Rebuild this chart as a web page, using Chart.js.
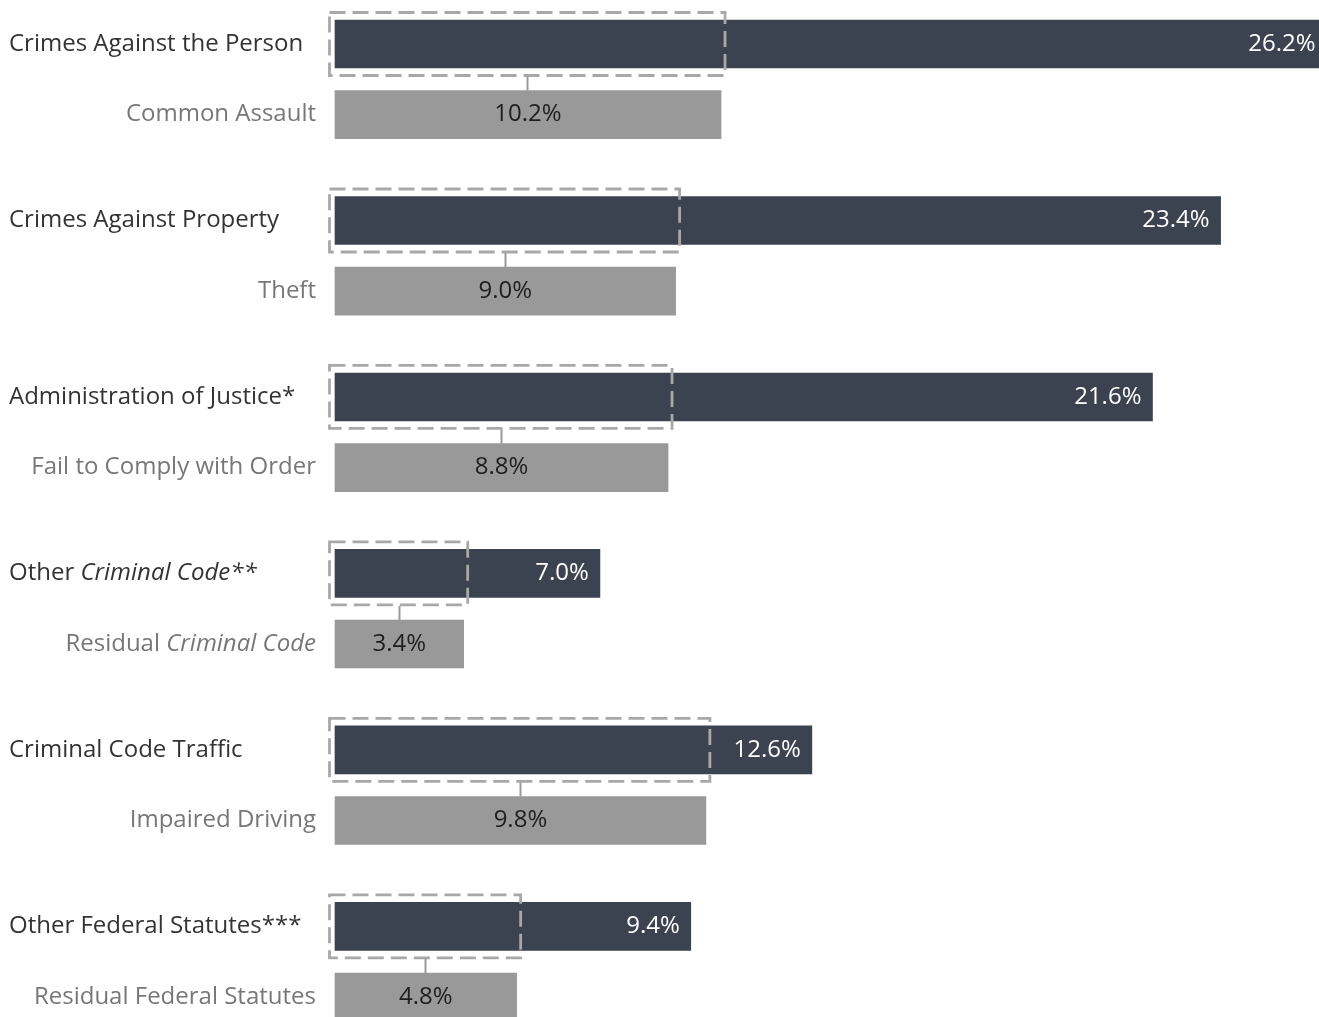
<!DOCTYPE html>
<html>
<head>
<meta charset="utf-8">
<script src="https://cdn.jsdelivr.net/npm/chart.js@4.4.1/dist/chart.umd.min.js"></script>
<style>
  html, body { margin: 0; padding: 0; background: #ffffff; }
  #wrap { width: 1319px; height: 1017px; position: relative; }
</style>
</head>
<body>
<div id="wrap"><canvas id="c" width="1319" height="1017"></canvas></div>
<script>
// ---- Data ----
const categories = ['Crimes Against the Person', 'Crimes Against Property', 'Administration of Justice*', 'Other Criminal Code**', 'Criminal Code Traffic', 'Other Federal Statutes***'];
const categoryItalic = ['', '', '', 'Criminal Code**', '', ''];
const mainValues = [26.2, 23.4, 21.6, 7.0, 12.6, 9.4];
const subcategories = ['Common Assault', 'Theft', 'Fail to Comply with Order', 'Residual Criminal Code', 'Impaired Driving', 'Residual Federal Statutes'];
const subcategoryItalic = ['', '', '', 'Criminal Code', '', ''];
const subValues = [10.2, 9.0, 8.8, 3.4, 9.8, 4.8];

// ---- Layout slots (5 per group: main, gap, sub, gap, gap) ----
const SLOTS = 5;
const nSlots = (categories.length - 1) * SLOTS + 3;
const slotLabels = [];
const mainData = [];
const subData = [];
for (let i = 0; i < nSlots; i++) {
  const g = Math.floor(i / SLOTS), r = i % SLOTS;
  slotLabels.push(r === 0 ? categories[g] : (r === 2 ? subcategories[g] : ''));
  mainData.push(r === 0 ? mainValues[g] : null);
  subData.push(r === 2 ? subValues[g] : null);
}

const FONT = '"Open Sans", "Noto Sans", "DejaVu Sans", sans-serif';
const FS = 24;

function splitParts(text, italic) {
  if (!italic) return [[text, false]];
  const idx = text.indexOf(italic);
  if (idx < 0) return [[text, false]];
  const parts = [];
  if (idx > 0) parts.push([text.slice(0, idx), false]);
  parts.push([italic, true]);
  if (idx + italic.length < text.length) parts.push([text.slice(idx + italic.length), false]);
  return parts;
}
function drawParts(ctx, parts, x, y, align) {
  let widths = parts.map(p => { ctx.font = (p[1] ? 'italic ' : '') + FS + 'px ' + FONT; return ctx.measureText(p[0]).width; });
  const total = widths.reduce((a, b) => a + b, 0);
  let cx = align === 'right' ? x - total : x;
  ctx.textAlign = 'left';
  parts.forEach((p, i) => {
    ctx.font = (p[1] ? 'italic ' : '') + FS + 'px ' + FONT;
    ctx.fillText(p[0], cx, y);
    cx += widths[i];
  });
}

const overlay = {
  id: 'overlay',
  afterDatasetsDraw(chart) {
    const ctx = chart.ctx;
    const xs = chart.scales.x, ys = chart.scales.y;
    const half = 24;
    ctx.save();
    ctx.textBaseline = 'middle';
    for (let g = 0; g < categories.length; g++) {
      const yM = ys.getPixelForValue(g * SLOTS);
      const yS = ys.getPixelForValue(g * SLOTS + 2);
      const x0 = xs.getPixelForValue(0);
      const xM = xs.getPixelForValue(mainValues[g]);
      const xS = xs.getPixelForValue(subValues[g]);

      // dashed box
      const bl = x0 - 5.5, br = xS + 4, bt = yM - half - 7.5, bb = yM + half + 7.5;
      ctx.setLineDash([16, 7]);
      ctx.lineWidth = 2.8;
      ctx.strokeStyle = '#a8a8a8';
      ctx.strokeRect(bl, bt, br - bl, bb - bt);
      ctx.setLineDash([]);
      // connector
      const cxm = Math.round((bl + br) / 2) + 0.5;
      ctx.lineWidth = 2;
      ctx.strokeStyle = '#9a9a9a';
      ctx.beginPath();
      ctx.moveTo(cxm, bb + 1);
      ctx.lineTo(cxm, yS - half);
      ctx.stroke();

      // value labels
      ctx.font = FS + 'px ' + FONT;
      ctx.fillStyle = '#ffffff';
      ctx.textAlign = 'right';
      ctx.fillText(mainValues[g].toFixed(1) + '%', xM - 11, yM);
      ctx.fillStyle = '#1e1e1e';
      ctx.textAlign = 'center';
      ctx.fillText(subValues[g].toFixed(1) + '%', (x0 + xS) / 2, yS);

      // category labels
      ctx.fillStyle = '#333333';
      drawParts(ctx, splitParts(categories[g], categoryItalic[g]), 9, yM, 'left');
      ctx.fillStyle = '#777777';
      drawParts(ctx, splitParts(subcategories[g], subcategoryItalic[g]), 316, yS, 'right');
    }
    ctx.restore();
  }
};

new Chart(document.getElementById('c'), {
  type: 'bar',
  data: {
    labels: slotLabels,
    datasets: [
      { data: mainData, backgroundColor: '#3b4350', grouped: false, barThickness: 48, clip: false },
      { data: subData, backgroundColor: '#999999', grouped: false, barThickness: 48, clip: false }
    ]
  },
  options: {
    indexAxis: 'y',
    responsive: false,
    animation: false,
    layout: { padding: { left: 335, right: 0, top: 44, bottom: 20 } },
    scales: {
      x: { type: 'linear', min: 0, max: 26.0, display: false },
      y: { type: 'category', offset: false, display: false }
    },
    plugins: { legend: { display: false }, tooltip: { enabled: false } }
  },
  plugins: [overlay]
});
</script>
</body>
</html>
